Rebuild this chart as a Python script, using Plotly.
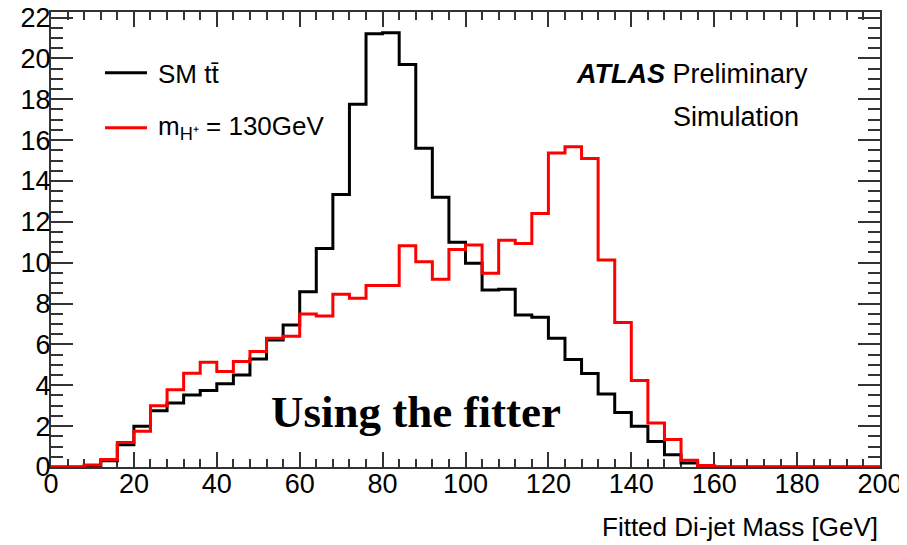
import numpy as np
import plotly.graph_objects as go

# ---- data ----
bin_edges = list(np.arange(0, 204, 4))  # 0..200, 50 bins of 4 GeV
sm_ttbar = [0, 0, 0.05, 0.3, 1.09, 1.99, 2.75, 3.13, 3.53, 3.75,
            4.07, 4.5, 5.29, 6.22, 6.95, 8.58, 10.7, 13.34, 17.75, 21.2,
            21.25, 19.7, 15.6, 13.2, 11.0, 9.97, 8.66, 8.7, 7.44, 7.33,
            6.3, 5.26, 4.58, 3.57, 2.67, 1.99, 1.25, 0.6, 0.2, 0.02,
            0, 0, 0, 0, 0, 0, 0, 0, 0, 0]
mh130 = [0, 0, 0.1, 0.37, 1.2, 1.75, 3.0, 3.78, 4.59, 5.13,
         4.67, 5.16, 5.65, 6.3, 6.4, 7.49, 7.39, 8.45, 8.26, 8.88,
         8.88, 10.83, 10.05, 9.19, 10.65, 10.86, 9.48, 11.1, 10.94, 12.41,
         15.37, 15.67, 15.1, 10.13, 7.07, 4.23, 2.15, 1.34, 0.33, 0.07,
         0, 0, 0, 0, 0, 0, 0, 0, 0, 0]
x_ticks = [0, 20, 40, 60, 80, 100, 120, 140, 160, 180, 200]
y_ticks = [0, 2, 4, 6, 8, 10, 12, 14, 16, 18, 20, 22]

# page body has an 8px default margin -> shrink the figure accordingly
OFF = 8
WIN_W, WIN_H = 907, 545
PL, PR, PT, PB = 51, 880, 12, 467   # plot area in window pixels
W, H = WIN_W - OFF, WIN_H - OFF
ML, MT = PL - OFF, PT - OFF
MR, MB = W - (PR - OFF), H - (PB - OFF)
PW, PH = PR - PL, PB - PT


def px(x):
    return (x - PL) / PW


def py(y):
    return (PB - y) / PH


def step(vals):
    xs = bin_edges[:-1] + [bin_edges[-1]]
    ys = list(vals) + [vals[-1]]
    return xs, ys


fig = go.Figure()
for vals, col, name in [(sm_ttbar, "#000000", "SM tt̄"), (mh130, "#ff0000", "m_H+ = 130GeV")]:
    xs, ys = step(vals)
    fig.add_trace(go.Scatter(x=xs, y=ys, mode="lines", line=dict(shape="hv", color=col, width=3),
                             name=name, showlegend=False, cliponaxis=False, hoverinfo="skip"))

axis_common = dict(showline=True, linecolor="#333333", linewidth=2, mirror="allticks",
                   ticks="inside", tickcolor="#333333", tickwidth=1.5, showgrid=False,
                   zeroline=False, layer="below traces", automargin=False,
                   ticklabeloverflow="allow",
                   tickfont=dict(family="Liberation Sans", size=27, color="#000000"))

fig.update_xaxes(range=[0, 200], tickvals=x_ticks, ticklen=15, ticklabelstandoff=-8,
                 minor=dict(dtick=4, ticks="inside", ticklen=8, tickcolor="#333333", tickwidth=1.5),
                 **axis_common)
fig.update_yaxes(range=[0, 22.27], tickvals=y_ticks, ticklen=22, ticklabelstandoff=-7,
                 minor=dict(dtick=0.5, ticks="inside", ticklen=12, tickcolor="#333333", tickwidth=1.5),
                 **axis_common)

shapes = [
    dict(type="line", xref="paper", yref="paper", x0=px(105), x1=px(147), y0=py(72.7), y1=py(72.7),
         line=dict(color="#000000", width=3)),
    dict(type="line", xref="paper", yref="paper", x0=px(105), x1=px(147), y0=py(127.7), y1=py(127.7),
         line=dict(color="#ff0000", width=3)),
]

ann = []
f26 = dict(family="Liberation Sans", size=26, color="#000000")
ann.append(dict(text="SM tt\u0304", x=px(156), y=py(74), xanchor="left", yanchor="middle", font=f26))
ann.append(dict(text="m<sub>H⁺</sub> = 130GeV", x=px(156), y=py(128), xanchor="left", yanchor="middle", font=f26))
ann.append(dict(text="<b><i>ATLAS</i></b> Preliminary", x=px(574), y=py(74), xanchor="left", yanchor="middle",
                font=dict(family="Liberation Sans", size=27, color="#000000")))
ann.append(dict(text="Simulation", x=px(671), y=py(117), xanchor="left", yanchor="middle",
                font=dict(family="Liberation Sans", size=27, color="#000000")))
ann.append(dict(text="<b>Using the fitter</b>", x=px(416), y=py(412), xanchor="center", yanchor="middle",
                font=dict(family="Liberation Serif", size=45, color="#000000")))
ann.append(dict(text="Fitted Di-jet Mass [GeV]", x=px(880), y=py(527), xanchor="right", yanchor="middle",
                font=dict(family="Liberation Sans", size=26, color="#000000")))
for a in ann:
    a.update(xref="paper", yref="paper", showarrow=False)

fig.update_layout(template="none", width=W, height=H,
                  margin=dict(l=ML, r=MR, t=MT, b=MB, autoexpand=False),
                  paper_bgcolor="white", plot_bgcolor="white",
                  shapes=shapes, annotations=ann, showlegend=False)

fig.write_html("out.html")
